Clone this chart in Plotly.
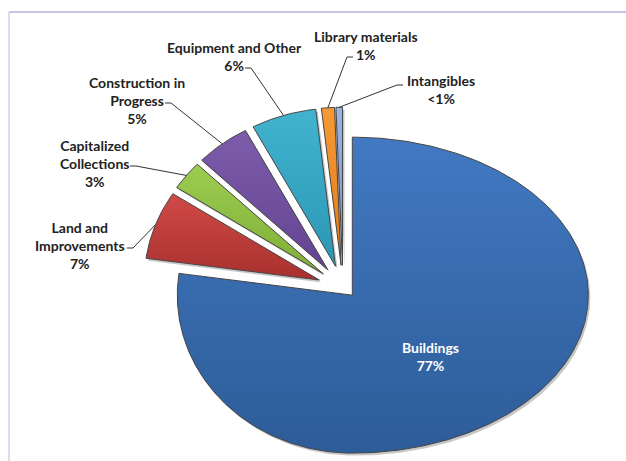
import numpy as np
import plotly.graph_objects as go

# Capital asset composition, clockwise from 12 o'clock
categories = ["Buildings", "Land and Improvements", "Capitalized Collections",
              "Construction in Progress", "Equipment and Other",
              "Library materials", "Intangibles"]
values = [77.2, 7.0, 3.0, 5.0, 6.0, 1.2, 0.6]
label_lines = ["Buildings", "Land and<br>Improvements", "Capitalized<br>Collections",
               "Construction in<br>Progress", "Equipment and Other",
               "Library materials", "Intangibles"]

# explode fraction of radius for each slice
pulls = [0.06, 0.144, 0.144, 0.144, 0.144, 0.144, 0.144]
colors_top = ["#4279c2", "#d04a47", "#9ccc50", "#7d5cab", "#40b3cf", "#f69a36", "#9ab5e2"]
colors_bot = ["#2d5c98", "#a8302e", "#7fae36", "#634492", "#2b97b5", "#e27b17", "#7895cc"]
line_color = "#454545"

# pie geometry in page pixels (outline is wider on the right half)
W, H = 626, 461
CX, CY = 343, 288
RX_L, RX_R, RY = 175, 236, 158

# label block centres and the elbow points of their leader lines
label_pos = [(430, 356), (80, 245), (94, 163), (137, 100), (234, 56), (366, 45), (441, 89)]
elbows = [None,
          [(127, 248), (133, 248)],
          [(130, 166), (136, 166)],
          [(165, 103), (171, 103)],
          [(245, 68), (251, 68)],
          [(353, 57), (347, 57)],
          [(403, 85), (397, 85)]]

total = sum(values)
fracs = [v / total for v in values]


def pct_text(f):
    p = f * 100
    return "<1%" if p < 1 else f"{round(p)}%"


def rx_of(s):
    return np.where(s > 0, RX_R, RX_L)


fig = go.Figure()

start = 0.0
geom = []
for i, f in enumerate(fracs):
    a0 = start
    a1 = start + f * 2 * np.pi
    mid = (a0 + a1) / 2
    ox = CX + pulls[i] * rx_of(np.sin(mid)) * np.sin(mid)
    oy = CY - pulls[i] * RY * np.cos(mid)
    t = np.linspace(a0, a1, max(8, int(f * 500)))
    st = np.sin(t)
    xs = np.concatenate([[ox], ox + rx_of(st) * st, [ox]])
    ys = np.concatenate([[oy], oy - RY * np.cos(t), [oy]])
    geom.append((xs, ys, float(ox), float(oy), mid))
    start = a1

# soft drop shadows
for xs, ys, *_ in geom:
    fig.add_trace(go.Scatter(x=xs + 2, y=ys + 2.5, mode="lines", fill="toself",
                             fillcolor="rgba(0,0,0,0.22)", line=dict(width=0),
                             hoverinfo="skip", showlegend=False))

# slices
for i, (xs, ys, ox, oy, mid) in enumerate(geom):
    fig.add_trace(go.Scatter(
        x=xs, y=ys, mode="lines", fill="toself",
        fillgradient=dict(type="vertical",
                          colorscale=[[0, colors_top[i]], [1, colors_bot[i]]],
                          start=float(ys.min()), stop=float(ys.max())),
        line=dict(color=line_color, width=1),
        name=categories[i], hoverinfo="name", showlegend=False))

# leader lines from labels to the outer arc of each small slice
for i in range(1, len(geom)):
    xs, ys, ox, oy, mid = geom[i]
    sm = np.sin(mid)
    tip = (ox + float(rx_of(sm)) * sm, oy - RY * np.cos(mid))
    pts = elbows[i] + [tip]
    fig.add_trace(go.Scatter(x=[p[0] for p in pts], y=[p[1] for p in pts],
                             mode="lines", line=dict(color="#333333", width=1),
                             hoverinfo="skip", showlegend=False))

# labels
for i in range(len(categories)):
    x, y = label_pos[i]
    txt = f"{label_lines[i]}<br>{pct_text(fracs[i])}"
    fig.add_annotation(x=x, y=y, xref="x", yref="y", text=txt, showarrow=False,
                       xanchor="center", yanchor="middle", align="center",
                       font=dict(family="Lato", size=14, weight="bold",
                                 color="white" if i == 0 else "#222222"))

# frame lines
fig.add_shape(type="line", x0=9, x1=W, y0=12, y1=12, xref="x", yref="y",
              line=dict(color="#c7c3e6", width=2))
fig.add_shape(type="line", x0=9, x1=9, y0=12, y1=H, xref="x", yref="y",
              line=dict(color="#d2cfee", width=1.5))

fig.update_xaxes(range=[0, W], visible=False, fixedrange=True)
fig.update_yaxes(range=[H, 0], visible=False, fixedrange=True)
fig.update_layout(width=W, height=H, margin=dict(l=0, r=0, t=0, b=0),
                  paper_bgcolor="white", plot_bgcolor="white")

fig.write_html("out.html", config={"displayModeBar": False},
               post_script="document.body.style.margin='0';document.body.style.overflow='hidden';")
